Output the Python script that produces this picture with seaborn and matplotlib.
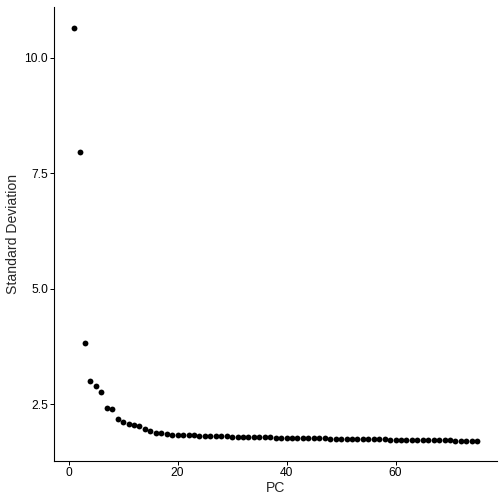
"""
Elbow plot: standard deviation of each principal component.
"""

import numpy as np
import pandas as pd
import matplotlib
matplotlib.use("Agg")
import matplotlib.pyplot as plt
import seaborn as sns


# ─────────────────────────────────────────────
# Data
# ─────────────────────────────────────────────

pcs = list(range(1, 76))
stdev = [
    10.65, 7.97, 3.84, 3.00, 2.89, 2.78, 2.42, 2.41, 2.19, 2.11,
    2.07, 2.06, 2.03, 1.97, 1.93, 1.89, 1.88, 1.87, 1.85, 1.84,
    1.84, 1.83, 1.83, 1.82, 1.82, 1.82, 1.81, 1.81, 1.81, 1.80,
    1.80, 1.80, 1.80, 1.79, 1.79, 1.79, 1.79, 1.78, 1.78, 1.78,
    1.78, 1.78, 1.77, 1.77, 1.77, 1.77, 1.77, 1.76, 1.76, 1.76,
    1.76, 1.76, 1.75, 1.75, 1.75, 1.75, 1.75, 1.75, 1.74, 1.74,
    1.74, 1.74, 1.74, 1.74, 1.73, 1.73, 1.73, 1.73, 1.73, 1.73,
    1.72, 1.72, 1.72, 1.72, 1.72,
]
x_ticks = [0, 20, 40, 60]
y_ticks = [2.5, 5.0, 7.5, 10.0]

df = pd.DataFrame({"PC": pcs, "Standard Deviation": stdev})

# ─────────────────────────────────────────────
# Plot
# ─────────────────────────────────────────────

sns.set_style("ticks")
plt.rcParams["font.family"] = ["Liberation Sans", "DejaVu Sans"]

fig = plt.figure(figsize=(7, 7), dpi=72)
ax = fig.add_axes([0.107, 0.085, 0.88, 0.901])

sns.scatterplot(data=df, x="PC", y="Standard Deviation", color="black",
                s=34, linewidth=0, ax=ax)

# ggplot-style 5% expansion
xr = max(pcs) - min(pcs)
yr = max(stdev) - min(stdev)
ax.set_xlim(min(pcs) - 0.05 * xr, max(pcs) + 0.05 * xr)
ax.set_ylim(min(stdev) - 0.05 * yr, max(stdev) + 0.05 * yr)

ax.set_xticks(x_ticks)
ax.set_yticks(y_ticks)
ax.set_yticklabels([f"{v:.1f}" for v in y_ticks])
ax.tick_params(labelsize=12, length=4, width=1, color="black",
               labelcolor="black", pad=2)
ax.set_xlabel("PC", fontsize=14, labelpad=2)
ax.set_ylabel("Standard Deviation", fontsize=14, labelpad=4)

sns.despine(ax=ax)
for side in ["left", "bottom"]:
    ax.spines[side].set_linewidth(1.1)
    ax.spines[side].set_color("black")

fig.savefig("out.png", dpi=72)
plt.close(fig)
